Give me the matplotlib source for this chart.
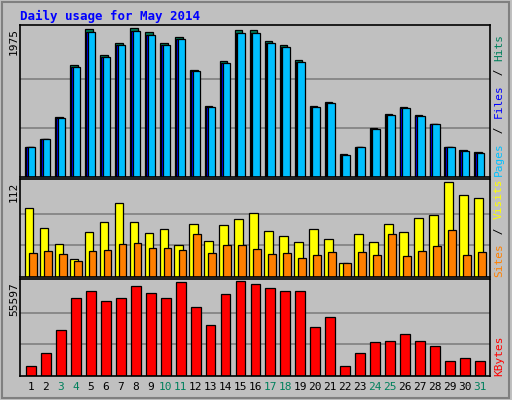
import numpy as np
import matplotlib.pyplot as plt

days = np.arange(1, 32)
weekend = [3, 4, 10, 11, 17, 18, 24, 25, 31]

# top panel (hits / files / pages)
hits = [403, 512, 800, 1498, 1975, 1634, 1797, 1989, 1934, 1797, 1880, 1437, 955, 1546, 1961, 1961, 1825, 1770, 1560, 955, 1010, 305, 403, 650, 840, 935, 825, 715, 403, 360, 330]
files = [h * 0.985 for h in hits]
pages = [h * 0.985 for h in hits]

# middle panel
visits = [81, 58, 39, 21, 53, 65, 87, 65, 52, 56, 38, 62, 42, 61, 68, 75, 54, 48, 41, 56, 45, 17, 51, 41, 62, 53, 69, 73, 112, 96, 93]
sites = [28, 31, 27, 19, 31, 32, 39, 40, 34, 34, 32, 51, 28, 38, 38, 33, 27, 28, 22, 26, 29, 16, 29, 26, 51, 25, 31, 37, 55, 26, 29]

# bottom panel
kbytes = [5680, 13590, 26990, 45860, 49510, 44030, 45860, 52550, 48290, 45860, 54990, 40380, 30030, 47680, 55597, 53770, 51330, 49510, 49510, 28810, 34290, 5680, 13590, 19680, 20290, 24550, 20290, 17250, 8730, 10550, 8730]

BG = '#C0C0C0'
W, H = 512, 400
fig = plt.figure(figsize=(W / 100, H / 100), dpi=100, facecolor=BG)
plt.rcParams['font.family'] = 'DejaVu Sans Mono'


def box(x0, y0, x1, y1):
    # pixel box -> figure fraction
    return [x0 / W, 1 - y1 / H, (x1 - x0) / W, (y1 - y0) / H]


def panel(y0, y1, vmax, headroom):
    ax = fig.add_axes(box(20, y0, 490, y1))
    ax.set_facecolor(BG)
    ax.set_xlim(0.27, 31.67)
    ax.set_ylim(0, vmax * headroom)
    for f in (1 / 3, 2 / 3):
        ax.axhline(vmax * f, color='#808080', lw=1.2, zorder=0)
    ax.set_xticks([])
    ax.set_yticks([])
    for s in ax.spines.values():
        s.set_linewidth(1.2)
    fig.text(14 / W, 1 - (y0 + 3) / H, str(vmax), rotation=90, ha='center', va='top',
             fontsize=8)
    return ax


# outer border
fig.add_artist(plt.Rectangle((0.004, 0.004), 0.99, 0.99, transform=fig.transFigure,
                             fill=False, ec='#808080', lw=1.5))
fig.text(20 / W, 1 - 16 / H, 'Daily usage for May 2014', color='#0000FF',
         fontsize=9, fontweight='bold', va='center')

ax1 = panel(25, 177, 1975, 1.03)
ax1.bar(days - 0.12, hits, width=0.5, color='#00805C', ec='black', lw=0.9)
ax1.bar(days - 0.06, files, width=0.5, color='#0000FF', ec='black', lw=0.9)
ax1.bar(days + 0.05, pages, width=0.5, color='#00C0FF', ec='black', lw=0.9)

ax2 = panel(179, 277, 112, 1.03)
ax2.bar(days - 0.12, visits, width=0.58, color='#FFFF00', ec='black', lw=0.9)
ax2.bar(days + 0.12, sites, width=0.52, color='#FF8000', ec='black', lw=0.9)

ax3 = panel(279, 376, 55597, 1.02)
ax3.bar(days, kbytes, width=0.66, color='#FF0000', ec='black', lw=0.9)

for d in days:
    ax3.text(d, -0.06, str(d), transform=ax3.get_xaxis_transform(), ha='center', va='top',
             fontsize=8, color='#00805C' if d in weekend else 'black')


def side_label(parts, ybot):
    y = ybot
    for txt, col in parts:
        fig.text(499 / W, 1 - y / H, txt, color=col, rotation=90, ha='center', va='bottom',
                 fontsize=8)
        y -= len(txt) * 7.2


side_label([('Pages', '#00C0FF'), (' / ', 'black'), ('Files', '#0000FF'), (' / ', 'black'),
            ('Hits', '#00805C')], 176)
side_label([('Sites', '#FF8000'), (' / ', 'black'), ('Visits', '#FFFF00')], 277)
side_label([('KBytes', '#FF0000')], 376)

fig.savefig('out.png', dpi=100, facecolor=BG)
